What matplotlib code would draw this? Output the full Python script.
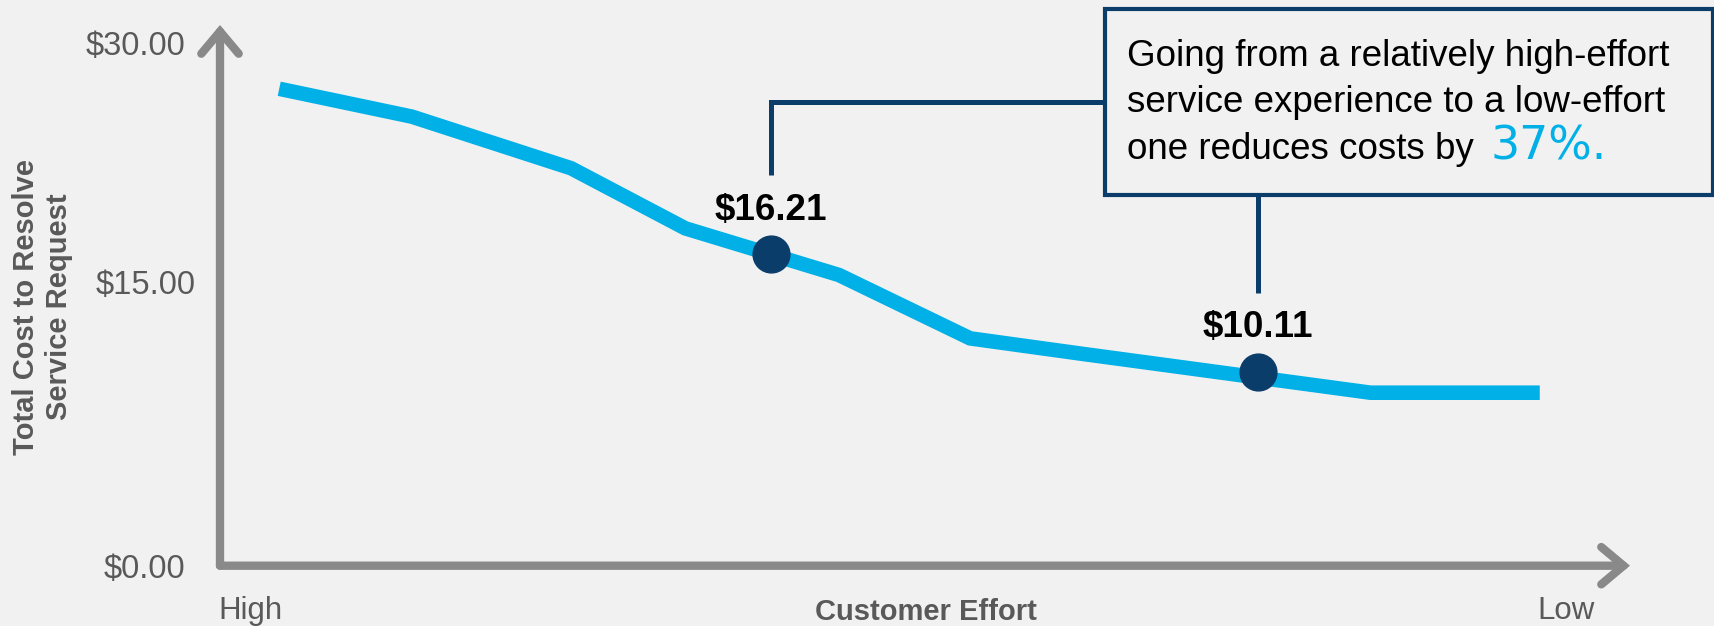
import matplotlib
matplotlib.use("Agg")
import matplotlib.pyplot as plt
from matplotlib.patches import Rectangle
from matplotlib.transforms import ScaledTranslation

plt.rcParams['font.family'] = ['Liberation Sans', 'DejaVu Sans']

# Cost curve: customer effort runs from high (left) to low (right)
effort = [4.2, 13.6, 24.9, 33.0, 43.9, 53.2, 61.2, 81.6, 93.6]
cost = [24.84, 23.39, 20.70, 17.57, 15.14, 11.84, 11.03, 9.01, 9.01]

# Highlighted points on the curve
highlight_effort = [39.1, 73.6]
highlight_cost = [16.21, 10.11]
highlight_labels = ["$16.21", "$10.11"]

y_tick_values = [0, 15, 27.2]
y_tick_labels = ["$0.00", "$15.00", "$30.00"]
x_end_labels = ["High", "Low"]

BG = "#F1F1F1"
AXIS_GRAY = "#898989"
TEXT_GRAY = "#595959"
BLUE = "#00B0E6"
NAVY = "#0B3D6B"

W, H = 1715, 626
fig = plt.figure(figsize=(W / 100, H / 100), dpi=100, facecolor=BG)


def fx(px):
    return px / W


def fy(py):
    return 1 - py / H


ax_left, ax_right, ax_top, ax_bottom = 220, 1630, 25, 565.7
ax = fig.add_axes([fx(ax_left), fy(ax_bottom), fx(ax_right - ax_left),
                   (ax_bottom - ax_top) / H])
ax.set_facecolor(BG)
ax.set_xlim(0, 100)
ax.set_ylim(0, (ax_bottom - ax_top) / 19.2)
for s in ax.spines.values():
    s.set_visible(False)

# Arrowed axes
arrow_kw = dict(arrowstyle="->,head_length=0.5,head_width=0.42", lw=6,
                color=AXIS_GRAY, shrinkA=0, shrinkB=0, mutation_scale=32,
                capstyle="round", joinstyle="miter")
ax.annotate("", xy=(0, 1), xytext=(0, 0), xycoords="axes fraction",
            arrowprops=arrow_kw)
ax.annotate("", xy=(1, 0), xytext=(0, 0), xycoords="axes fraction",
            arrowprops=arrow_kw)

# Curve and highlighted points
ax.plot(effort, cost, color=BLUE, lw=10.5, solid_joinstyle="miter",
        solid_capstyle="butt", clip_on=False, zorder=3)
ax.plot(highlight_effort, highlight_cost, "o", ms=26.5, color=NAVY,
        mec=NAVY, clip_on=False, zorder=4)
for xv, yv, lab in zip(highlight_effort, highlight_cost, highlight_labels):
    ax.annotate(lab, xy=(xv, yv), xytext=(0, 31.5), textcoords="offset points",
                ha="center", va="center", fontsize=26.5, fontweight="bold",
                color="black")

# Y ticks
ax.set_yticks(y_tick_values)
ax.set_yticklabels(y_tick_labels, fontsize=23.5, color=TEXT_GRAY)
ax.tick_params(axis="y", length=0, pad=25)
ax.set_xticks([])
mid = ax.get_yticklabels()[1]
mid.set_transform(mid.get_transform() +
                  ScaledTranslation(0.10, -0.04, fig.dpi_scale_trans))

# Ends of the effort axis
ax.annotate(x_end_labels[0], xy=(0, 0), xycoords="axes fraction",
            xytext=(-1, -32.5), textcoords="offset points", ha="left",
            va="center", fontsize=22.5, color=TEXT_GRAY)
ax.annotate(x_end_labels[1], xy=(95.5, 0), xycoords=("data", "axes fraction"),
            xytext=(0, -32.5), textcoords="offset points", ha="center",
            va="center", fontsize=22.5, color=TEXT_GRAY)
ax.annotate("Customer Effort", xy=(0.5, 0), xycoords="axes fraction",
            xytext=(1, -33), textcoords="offset points", ha="center",
            va="center", fontsize=21, fontweight="bold", color=TEXT_GRAY)

fig.text(fx(42.5), fy(307), "Total Cost to Resolve\nService Request",
         rotation=90, ha="center", va="center", multialignment="center",
         fontsize=21, fontweight="bold", color=TEXT_GRAY)

# Callout box with connectors to the highlighted points
box_l, box_r, box_t, box_b = 1105, 1713, 9, 195
fig.patches.append(Rectangle((fx(box_l), fy(box_b)), fx(box_r - box_l),
                             (box_b - box_t) / H, transform=fig.transFigure,
                             facecolor=BG, edgecolor=NAVY, lw=3, zorder=5))

conn_kw = dict(color=NAVY, lw=3.6, solid_capstyle="butt",
               solid_joinstyle="miter", transform=fig.transFigure, zorder=4)
x1 = ax.transData.transform((highlight_effort[0], 0))[0]
x2 = ax.transData.transform((highlight_effort[1], 0))[0]
fig.add_artist(plt.Line2D([fx(box_l), fx(x1), fx(x1)],
                          [fy(102.3), fy(102.3), fy(175)], **conn_kw))
fig.add_artist(plt.Line2D([fx(x2), fx(x2)], [fy(box_b), fy(293)], **conn_kw))

lines = ["Going from a relatively high-effort",
         "service experience to a low-effort",
         "one reduces costs by "]
baselines = [66, 112, 159]
txts = []
for ln, b in zip(lines, baselines):
    t = fig.text(fx(1127), fy(b), ln, ha="left", va="baseline", fontsize=26.5,
                 color="black", zorder=6)
    txts.append(t)

fig.canvas.draw()
ext = txts[-1].get_window_extent()
fig.text((ext.x1 + 7) / W, fy(159), "37%.", ha="left", va="baseline",
         fontsize=33, family=["DejaVu Sans"], fontweight="normal",
         color=BLUE, zorder=6)

fig.savefig("out.png", dpi=100, facecolor=BG)
